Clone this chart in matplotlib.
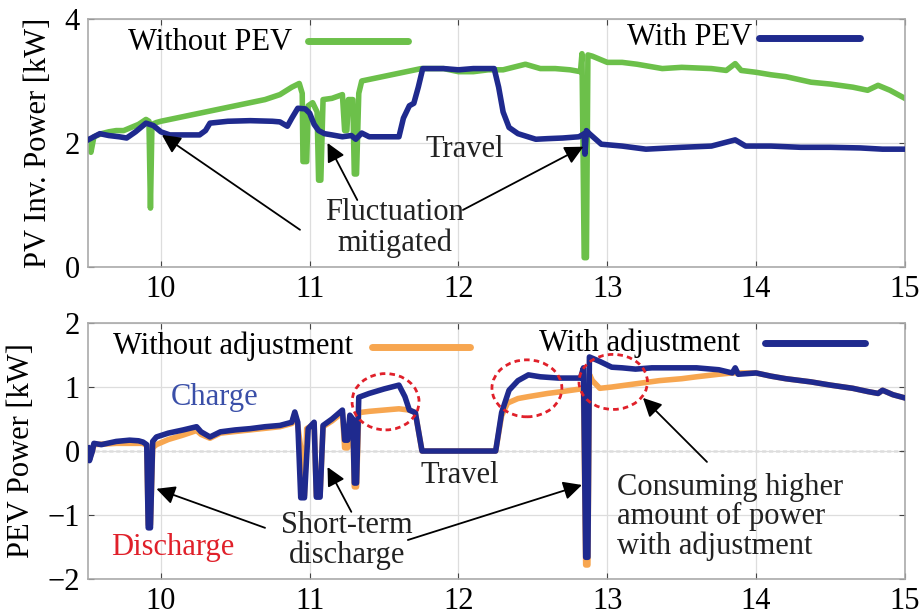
import matplotlib
matplotlib.use("Agg")
import matplotlib.pyplot as plt
from matplotlib.patches import Ellipse

plt.rcParams['font.family'] = ['Liberation Serif', 'DejaVu Serif']
plt.rcParams['font.size'] = 22

# ---- top panel: PV inverter power ----
t_pv_nopev = [9.51, 9.53, 9.55, 9.60, 9.65, 9.70, 9.75, 9.80, 9.85, 9.90, 9.92, 9.93, 9.94, 9.97,
              10.0, 10.1, 10.2, 10.3, 10.4, 10.5, 10.6, 10.7, 10.8, 10.88, 10.93, 10.95, 10.955, 10.98,
              10.99, 11.02, 11.05, 11.06, 11.075, 11.09, 11.15, 11.22, 11.235, 11.25, 11.26, 11.29,
              11.30, 11.315, 11.33, 11.35, 11.45, 11.55, 11.65, 11.75, 11.9, 12.0, 12.1, 12.2, 12.3,
              12.45, 12.55, 12.65, 12.75, 12.82, 12.83, 12.845, 12.86, 12.87, 12.9, 13.0, 13.1, 13.2,
              13.37, 13.5, 13.7, 13.8, 13.86, 13.9, 14.0, 14.1, 14.2, 14.37, 14.5, 14.65, 14.75,
              14.82, 14.9, 15.0]
p_pv_nopev = [2.05, 1.85, 2.1, 2.15, 2.18, 2.2, 2.2, 2.25, 2.3, 2.38, 2.35, 0.95, 2.3, 2.33,
              2.35, 2.4, 2.45, 2.5, 2.55, 2.6, 2.65, 2.7, 2.78, 2.9, 2.96, 2.8, 1.7, 1.7,
              2.6, 2.65, 2.5, 1.4, 1.4, 2.7, 2.72, 2.78, 2.2, 2.2, 2.7, 2.7,
              1.5, 1.5, 2.8, 3.0, 3.05, 3.1, 3.15, 3.2, 3.2, 3.15, 3.15, 3.18, 3.18,
              3.27, 3.2, 3.2, 3.18, 3.15, 3.44, 0.15, 0.15, 3.42, 3.4, 3.3, 3.3, 3.27,
              3.2, 3.22, 3.2, 3.17, 3.28, 3.17, 3.14, 3.1, 3.07, 2.98, 2.95, 2.9, 2.85,
              2.93, 2.85, 2.72]

t_pv_pev = [9.51, 9.55, 9.59, 9.65, 9.72, 9.77, 9.83, 9.9, 9.95, 10.0, 10.06, 10.15, 10.26, 10.3,
            10.33, 10.45, 10.6, 10.75, 10.8, 10.85, 10.88, 10.92, 10.97, 11.0, 11.03, 11.06, 11.1,
            11.15, 11.22, 11.28, 11.31, 11.35, 11.4, 11.5, 11.6, 11.63, 11.67, 11.7, 11.73, 11.76,
            11.9, 12.0, 12.1, 12.24, 12.27, 12.3, 12.34, 12.4, 12.52, 12.6, 12.7, 12.81, 12.845,
            12.85, 12.86, 12.88, 12.96, 13.1, 13.26, 13.5, 13.7, 13.86, 13.93, 14.1, 14.3, 14.5,
            14.7, 14.85, 15.0]
p_pv_pev = [2.05, 2.1, 2.15, 2.12, 2.1, 2.08, 2.18, 2.32, 2.28, 2.18, 2.13, 2.13, 2.13, 2.2,
            2.32, 2.35, 2.36, 2.35, 2.34, 2.27, 2.4, 2.56, 2.55, 2.48, 2.3, 2.2, 2.15,
            2.13, 2.1, 2.12, 2.06, 2.16, 2.1, 2.1, 2.1, 2.4, 2.6, 2.64, 2.9, 3.2,
            3.2, 3.18, 3.2, 3.2, 2.9, 2.5, 2.25, 2.15, 2.06, 2.07, 2.08, 2.1, 2.15,
            1.82, 2.2, 2.15, 1.98, 1.95, 1.9, 1.93, 1.95, 2.05, 1.95, 1.95, 1.93, 1.93,
            1.92, 1.9, 1.9]

# ---- bottom panel: PEV power ----
t_pev_adj = [9.51, 9.52, 9.54, 9.55, 9.6, 9.7, 9.79, 9.85, 9.88, 9.905, 9.915, 9.93, 9.945, 9.97,
             10.05, 10.15, 10.24, 10.27, 10.33, 10.4, 10.5, 10.6, 10.7, 10.8, 10.88, 10.9, 10.92,
             10.94, 10.965, 10.99, 11.03, 11.045, 11.07, 11.09, 11.15, 11.22, 11.235, 11.255,
             11.27, 11.29, 11.30, 11.315, 11.33, 11.4, 11.5, 11.6, 11.64, 11.67, 11.71, 11.755,
             12.25, 12.29, 12.34, 12.4, 12.47, 12.55, 12.67, 12.82, 12.84, 12.855, 12.87, 12.88,
             12.95, 13.03, 13.1, 13.19, 13.3, 13.45, 13.6, 13.75, 13.84, 13.86, 13.88, 14.0,
             14.1, 14.2, 14.37, 14.5, 14.65, 14.75, 14.82, 14.85, 14.92, 15.0]
p_pev_adj = [0.05, -0.15, 0.0, 0.12, 0.1, 0.15, 0.17, 0.16, 0.14, 0.1, -1.2, -1.2, 0.15, 0.22,
             0.28, 0.33, 0.38, 0.3, 0.22, 0.3, 0.33, 0.35, 0.38, 0.4, 0.45, 0.61, 0.45,
             -0.73, -0.73, 0.35, 0.45, -0.72, -0.72, 0.4, 0.5, 0.64, 0.17, 0.17,
             0.56, 0.5, -0.5, -0.5, 0.84, 0.9, 0.97, 1.03, 0.85, 0.64, 0.6, 0.0,
             0.0, 0.6, 0.95, 1.1, 1.19, 1.16, 1.14, 1.14, 1.3, -1.66, -1.66, 1.47,
             1.4, 1.31, 1.3, 1.28, 1.3, 1.3, 1.3, 1.27, 1.22, 1.3, 1.2, 1.22,
             1.17, 1.13, 1.08, 1.03, 0.98, 0.93, 0.9, 0.95, 0.88, 0.83]

t_pev_noadj = [9.51, 9.52, 9.54, 9.55, 9.7, 9.88, 9.905, 9.915, 9.93, 9.945, 9.97, 10.05, 10.15,
               10.24, 10.27, 10.33, 10.4, 10.6, 10.8, 10.88, 10.9, 10.92, 10.94, 10.95, 10.965,
               10.98, 11.03, 11.045, 11.07, 11.09, 11.15, 11.22, 11.235, 11.255, 11.27, 11.29,
               11.30, 11.315, 11.33, 11.4, 11.5, 11.6, 11.67, 11.71, 11.755, 12.25, 12.29, 12.33,
               12.4, 12.47, 12.6, 12.7, 12.82, 12.84, 12.855, 12.87, 12.88, 12.9, 12.95, 13.03,
               13.19, 13.35, 13.5, 13.6, 13.75, 13.84, 14.0, 14.1, 14.2, 14.37, 14.5, 14.65,
               14.75, 14.82, 14.85, 14.92, 15.0]
p_pev_noadj = [0.03, -0.12, 0.0, 0.1, 0.12, 0.12, 0.08, -1.15, -1.15, 0.05, 0.1, 0.18, 0.25,
               0.32, 0.26, 0.2, 0.28, 0.33, 0.38, 0.43, 0.58, 0.4, 0.05, -0.7, -0.7,
               0.35, 0.42, -0.7, -0.7, 0.38, 0.47, 0.6, 0.05, 0.05, 0.5, 0.45,
               -0.56, -0.56, 0.6, 0.62, 0.64, 0.66, 0.64, 0.6, 0.0, 0.0, 0.55, 0.75,
               0.82, 0.85, 0.9, 0.93, 0.97, 1.0, -1.78, -1.78, 1.2, 1.1, 0.98, 1.0,
               1.05, 1.1, 1.13, 1.16, 1.2, 1.22, 1.22, 1.17, 1.13, 1.08, 1.03, 0.98,
               0.93, 0.9, 0.95, 0.88, 0.83]

x_ticks = [10, 11, 12, 13, 14, 15]
pv_yticks = [0, 2, 4]
pev_yticks = [-2, -1, 0, 1, 2]

green = '#6cc04a'
blue = '#1f2a8e'
orange = '#f7a650'
red = '#e0202a'

fig = plt.figure(figsize=(9.22, 6.16), dpi=100)
ax1 = fig.add_axes([0.0954, 0.5666, 0.886, 0.4026])
ax2 = fig.add_axes([0.0954, 0.060, 0.886, 0.4156])

for ax in (ax1, ax2):
    ax.set_xlim(9.51, 15.0)
    ax.set_xticks(x_ticks)
    ax.grid(True, color='#dddddd', linewidth=0.9)
    ax.tick_params(direction='in', length=4, top=True, right=True, color='#444444', pad=6)
    for s in ax.spines.values():
        s.set_color('#aaaaaa')
        s.set_linewidth(1.2)

# top
ax1.plot(t_pv_nopev, p_pv_nopev, color=green, lw=4, solid_joinstyle='round', zorder=2)
ax1.plot(t_pv_pev, p_pv_pev, color=blue, lw=4, solid_joinstyle='round', zorder=3)
ax1.set_ylim(0, 4)
ax1.set_yticks(pv_yticks)
ax1.set_ylabel('PV Inv. Power [kW]', labelpad=8)

ax1.text(0.049, 0.907, 'Without PEV', transform=ax1.transAxes, ha='left', va='center')
ax1.plot([0.269, 0.392], [0.912, 0.912], transform=ax1.transAxes, color=green, lw=5,
         solid_capstyle='round')
ax1.text(0.813, 0.925, 'With PEV', transform=ax1.transAxes, ha='right', va='center')
ax1.plot([0.822, 0.945], [0.925, 0.925], transform=ax1.transAxes, color=blue, lw=5,
         solid_capstyle='round')

arrow = dict(arrowstyle='-|>', color='black', lw=1.3, mutation_scale=28, shrinkA=0, shrinkB=0)
line = dict(arrowstyle='-', color='black', lw=1.3, shrinkA=0, shrinkB=0)

ax1.text(12.04, 1.89, 'Travel', ha='center', va='center', color='#222222')
ax1.text(11.57, 0.63, 'Fluctuation\nmitigated', ha='center', va='center', color='#222222',
         linespacing=1.1)
ax1.annotate('', xy=(10.007, 2.13), xytext=(10.935, 0.60), arrowprops=arrow)
ax1.annotate('', xy=(11.12, 2.0), xytext=(11.32, 1.08), arrowprops=arrow)
ax1.annotate('', xy=(12.84, 1.94), xytext=(12.03, 0.92), arrowprops=arrow)

# bottom
ax2.plot(t_pev_noadj, p_pev_noadj, color=orange, lw=4, solid_joinstyle='round', zorder=2)
ax2.plot(t_pev_adj, p_pev_adj, color=blue, lw=4, solid_joinstyle='round', zorder=3)
ax2.axhline(0, color='#888888', lw=1, ls=(0, (3, 2)), zorder=1)
ax2.set_ylim(-2, 2)
ax2.set_yticks(pev_yticks)
ax2.set_ylabel('PEV Power [kW]', labelpad=8)

ax2.text(0.031, 0.91, 'Without adjustment', transform=ax2.transAxes, ha='left', va='center')
ax2.plot([0.348, 0.468], [0.906, 0.906], transform=ax2.transAxes, color=orange, lw=5,
         solid_capstyle='round')
ax2.text(0.798, 0.922, 'With adjustment', transform=ax2.transAxes, ha='right', va='center',
         zorder=5)
ax2.plot([0.829, 0.951], [0.922, 0.922], transform=ax2.transAxes, color=blue, lw=5,
         solid_capstyle='round')

for cx, cy, w, h in [(11.51, 0.77, 0.45, 0.88), (12.46, 0.98, 0.47, 0.89), (13.04, 1.08, 0.46, 0.86)]:
    ax2.add_patch(Ellipse((cx, cy), w, h, fill=False, edgecolor=red, lw=2, ls=(0, (2, 1.5)),
                          zorder=4))

ax2.text(10.36, 0.84, 'Charge', ha='center', va='center', color='#3a4fa8')
ax2.text(10.08, -1.5, 'Discharge', ha='center', va='center', color=red)
ax2.text(12.01, -0.375, 'Travel', ha='center', va='center', color='#222222')
ax2.text(11.25, -1.4, 'Short-term\ndischarge', ha='center', va='center', color='#222222',
         linespacing=1.0)
ax2.annotate('', xy=(9.97, -0.59), xytext=(10.70, -1.2), arrowprops=arrow)
ax2.annotate('', xy=(11.12, -0.25), xytext=(11.28, -0.95), arrowprops=arrow)
ax2.annotate('', xy=(12.83, -0.53), xytext=(11.66, -1.39), arrowprops=arrow)
ax2.text(13.065, -1.03, 'Consuming higher\namount of power\nwith adjustment', ha='left',
         va='center', color='#222222', linespacing=1.0)
ax2.annotate('', xy=(13.24, 0.83), xytext=(13.67, -0.17), arrowprops=arrow)

fig.savefig('out.png', dpi=100)
